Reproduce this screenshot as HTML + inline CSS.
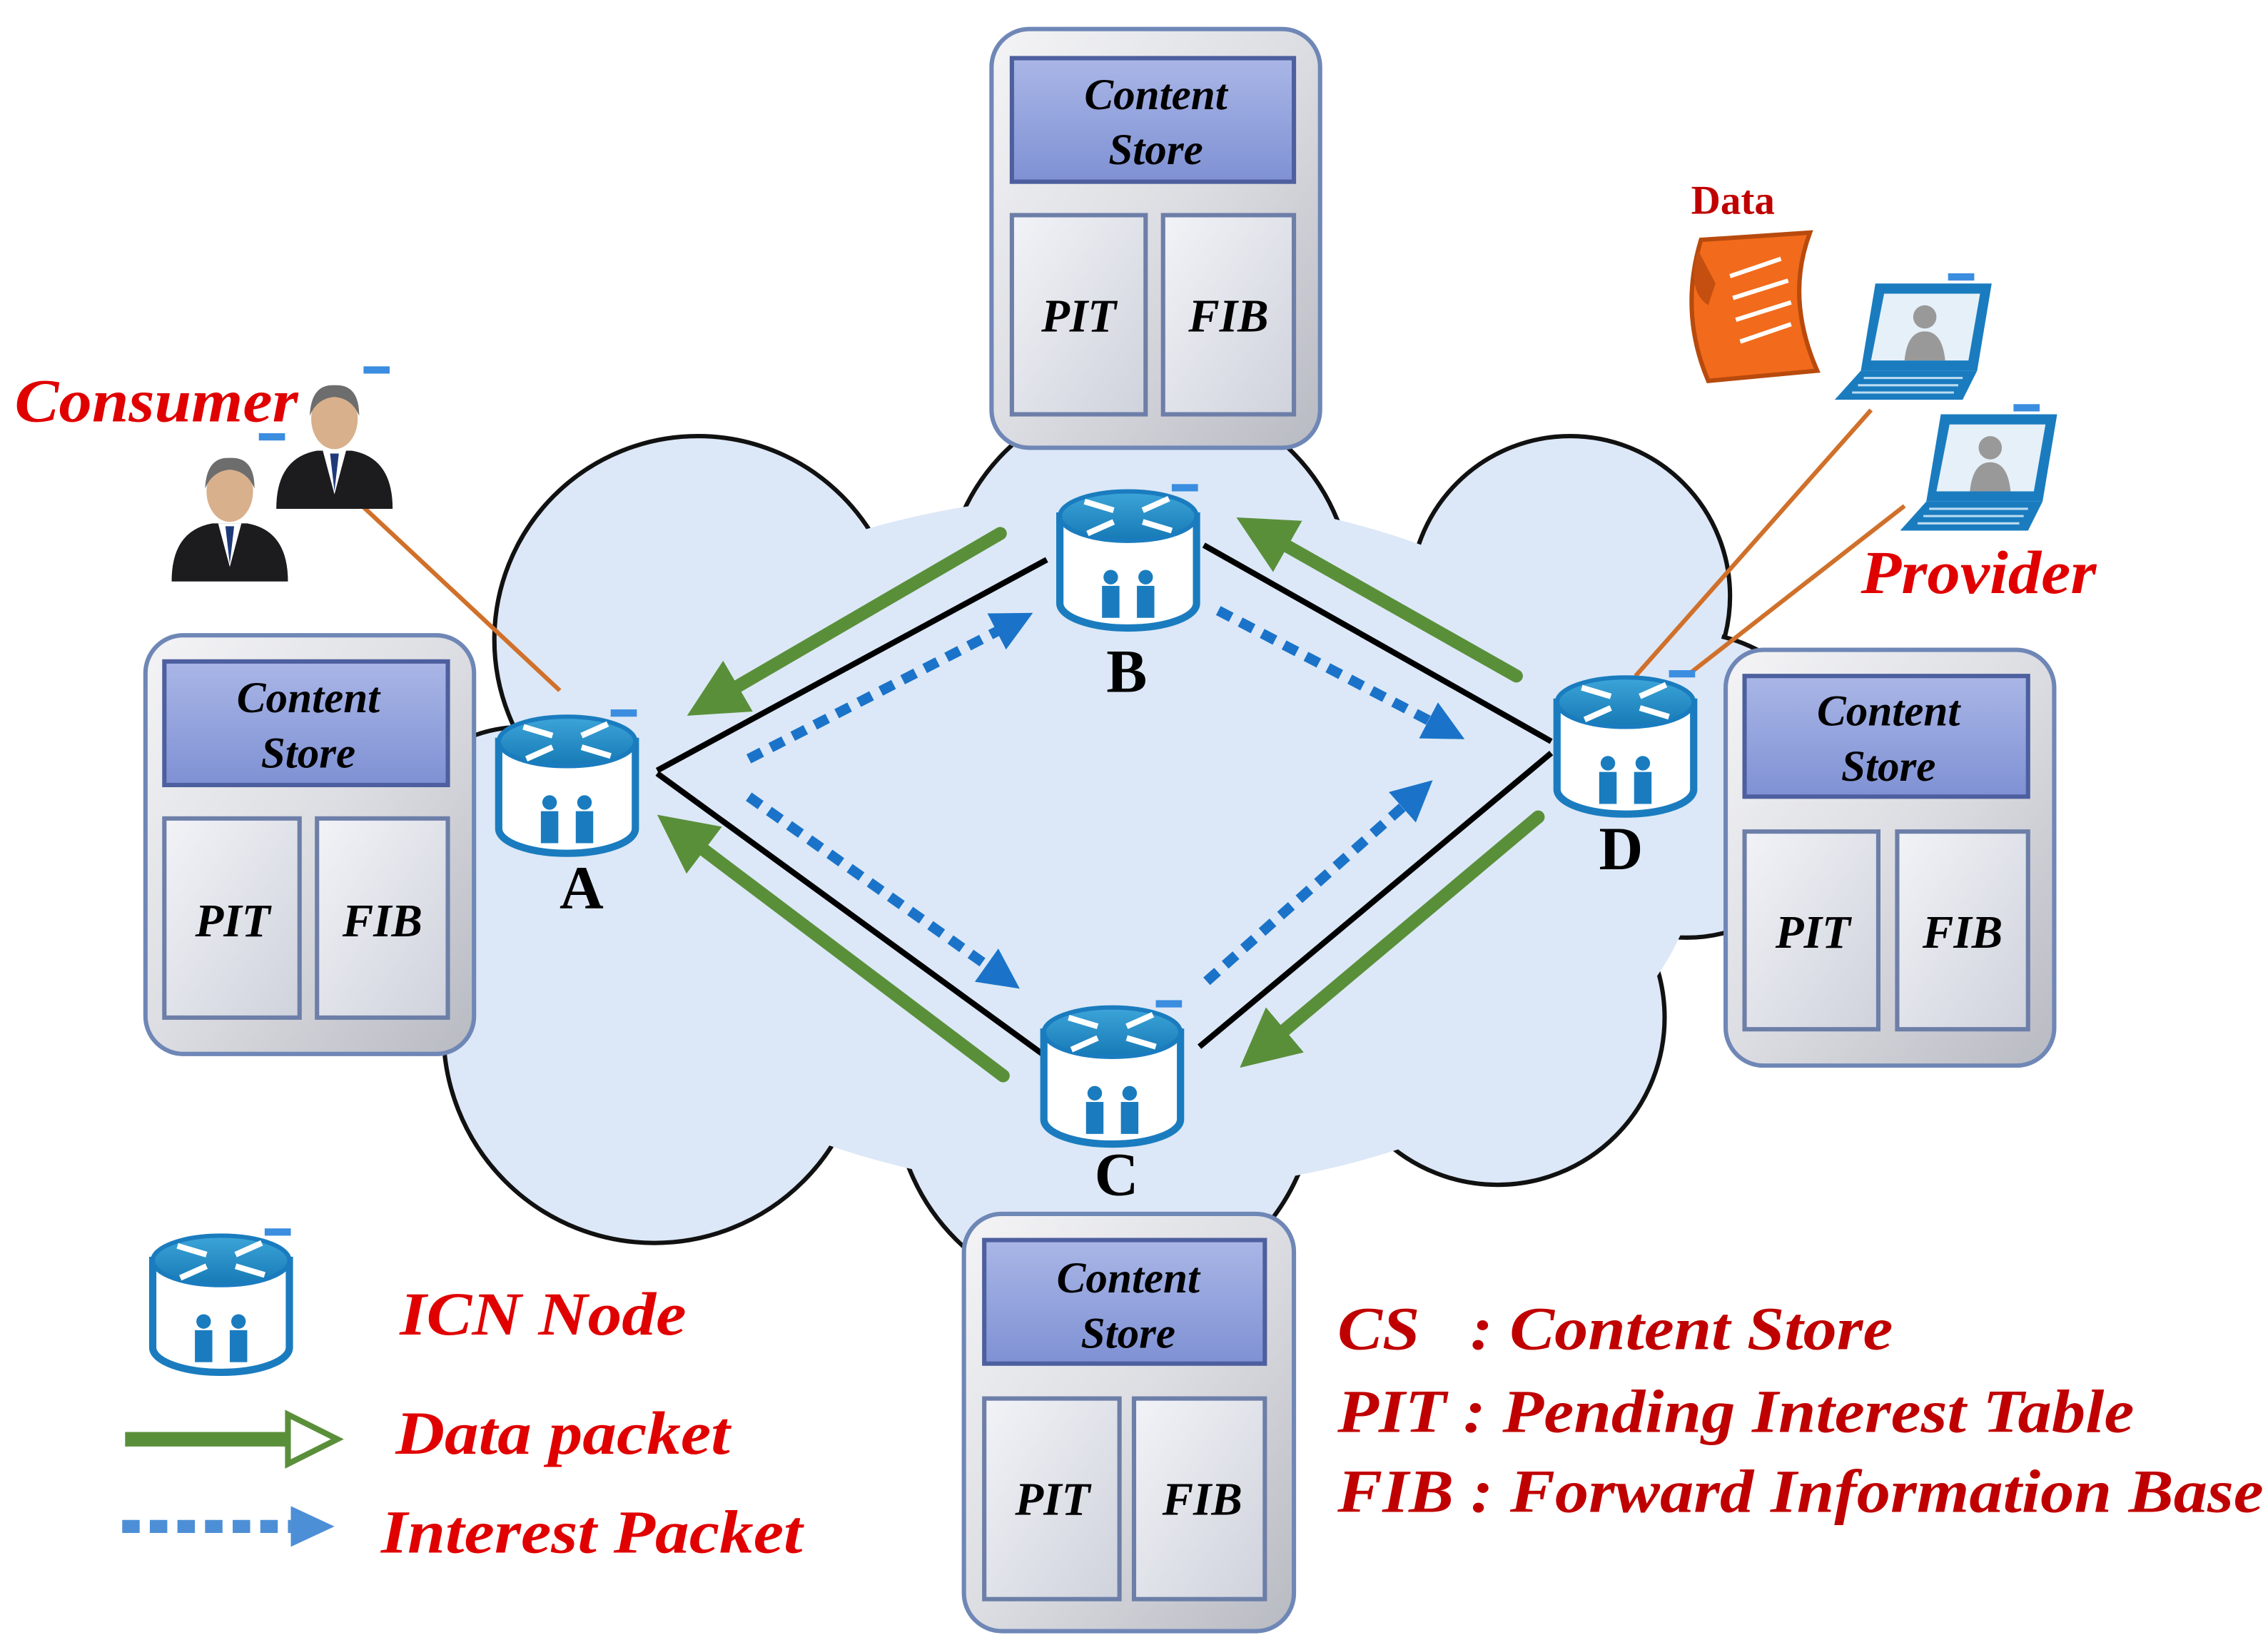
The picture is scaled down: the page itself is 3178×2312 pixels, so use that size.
<!DOCTYPE html>
<html><head><meta charset="utf-8"><style>
html,body{margin:0;padding:0;background:#fff;}
svg{display:block;}
text{font-family:"Liberation Serif",serif;font-weight:bold;}
</style></head><body>
<svg width="3178" height="2312" viewBox="0 0 1560 1135" xmlns="http://www.w3.org/2000/svg">
<defs>
<linearGradient id="box" x1="0" y1="0" x2="1" y2="1"><stop offset="0" stop-color="#f4f4f6"/><stop offset="0.5" stop-color="#dcdde2"/><stop offset="1" stop-color="#b8bac2"/></linearGradient>
<linearGradient id="cs" x1="0" y1="0" x2="0" y2="1"><stop offset="0" stop-color="#a9b6e6"/><stop offset="1" stop-color="#7f91d4"/></linearGradient>
<linearGradient id="pf" x1="0" y1="0" x2="1" y2="1"><stop offset="0" stop-color="#f2f3f7"/><stop offset="1" stop-color="#cfd2dc"/></linearGradient>
<linearGradient id="cyl" x1="0" y1="0" x2="0" y2="1"><stop offset="0" stop-color="#3da5d9"/><stop offset="1" stop-color="#1679b5"/></linearGradient>
<marker id="ga" markerWidth="4.5" markerHeight="4.5" refX="2" refY="2.25" orient="auto" markerUnits="strokeWidth"><path d="M0,0 L4.5,2.25 L0,4.5 z" fill="#5a8f3a"/></marker>
<marker id="ba" markerWidth="4" markerHeight="4" refX="2" refY="2" orient="auto" markerUnits="strokeWidth"><path d="M0,0 L4,2 L0,4 z" fill="#1a73c9"/></marker>
<g id="router">
<path d="M-47,-30 L-47,30 A47,17 0 0 0 47,30 L47,-30 Z" fill="#fff" stroke="#1a7cbf" stroke-width="5"/>
<ellipse cx="0" cy="-30" rx="47" ry="17" fill="url(#cyl)" stroke="#1a7cbf" stroke-width="3"/>
<path d="M-10,-34 L-30,-40 M10,-26 L30,-20 M10,-34 L28,-42 M-10,-26 L-28,-18" stroke="#fff" stroke-width="4"/>
<circle cx="-12" cy="12" r="5" fill="#1a7cbf"/><rect x="-18" y="18" width="12" height="22" fill="#1a7cbf"/>
<circle cx="12" cy="12" r="5" fill="#1a7cbf"/><rect x="6" y="18" width="12" height="22" fill="#1a7cbf"/>
<rect x="30" y="-52" width="18" height="5" fill="#3b8de0"/>
</g>
<g id="person">
<path d="M-40,50 Q-40,15 -12,10 L12,10 Q40,15 40,50 Z" fill="#1c1c1f"/>
<path d="M-8,10 L0,40 L8,10 Z" fill="#fff"/><path d="M-3,12 L0,38 L3,12Z" fill="#1f3a7a"/>
<ellipse cx="0" cy="-12" rx="16" ry="21" fill="#d9b08c"/>
<path d="M-17,-14 Q-16,-36 0,-35 Q17,-36 17,-14 Q12,-26 0,-27 Q-12,-26 -17,-14Z" fill="#6d6d6d"/>
</g>
<g id="laptop">
<path d="M-30,-45 L50,-45 L40,15 L-40,15 Z" fill="#1a7cbf"/>
<path d="M-24,-38 L42,-38 L34,8 L-33,8 Z" fill="#e6f0f8"/>
<circle cx="4" cy="-22" r="8" fill="#999"/><path d="M-10,8 Q-8,-12 4,-12 Q16,-12 18,8Z" fill="#999"/>
<path d="M-40,15 L40,15 L30,35 L-58,35 Z" fill="#1a7cbf"/>
<path d="M-38,20 L30,20 M-42,25 L27,25 M-46,30 L24,30" stroke="#bcdcf2" stroke-width="1.5"/>
<rect x="20" y="-52" width="18" height="5" fill="#3b8de0"/>
</g>
</defs>

<!-- cloud -->
<g stroke="#111" stroke-width="3" fill="#dce8f7">
<circle cx="480" cy="440" r="140"/><circle cx="790" cy="410" r="140"/><circle cx="1080" cy="410" r="110"/>
<circle cx="1160" cy="540" r="105"/><circle cx="1030" cy="700" r="115"/><circle cx="760" cy="750" r="145"/>
<circle cx="450" cy="710" r="145"/><circle cx="360" cy="600" r="100"/>
</g>
<g fill="#dce8f7">
<circle cx="480" cy="440" r="138"/><circle cx="790" cy="410" r="138"/><circle cx="1080" cy="410" r="108"/>
<circle cx="1160" cy="540" r="103"/><circle cx="1030" cy="700" r="113"/><circle cx="760" cy="750" r="143"/>
<circle cx="450" cy="710" r="143"/><circle cx="360" cy="600" r="98"/>
<ellipse cx="770" cy="580" rx="400" ry="240"/>
</g>

<!-- black links -->
<g stroke="#000" stroke-width="4">
<line x1="452" y1="530" x2="720" y2="385"/><line x1="828" y1="375" x2="1067" y2="510"/>
<line x1="452" y1="532" x2="717" y2="725"/><line x1="825" y1="720" x2="1067" y2="518"/>
</g>
<!-- green data arrows -->
<g stroke="#5a8f3a" stroke-width="9" stroke-linecap="round" fill="none">
<line x1="688" y1="367" x2="492" y2="481" marker-end="url(#ga)"/>
<line x1="1043" y1="465" x2="870" y2="367" marker-end="url(#ga)"/>
<line x1="690" y1="740" x2="470" y2="574" marker-end="url(#ga)"/>
<line x1="1058" y1="562" x2="870" y2="720" marker-end="url(#ga)"/>
</g>
<!-- blue interest arrows -->
<g stroke="#1a73c9" stroke-width="7" stroke-dasharray="10,7" fill="none">
<line x1="515" y1="522" x2="698" y2="428" marker-end="url(#ba)"/>
<line x1="838" y1="420" x2="995" y2="502" marker-end="url(#ba)"/>
<line x1="515" y1="548" x2="690" y2="672" marker-end="url(#ba)"/>
<line x1="830" y1="675" x2="975" y2="546" marker-end="url(#ba)"/>
</g>

<!-- orange lines -->
<g stroke="#d0702a" stroke-width="3">
<line x1="232" y1="332" x2="385" y2="475"/>
<line x1="1287" y1="282" x2="1125" y2="465"/>
<line x1="1310" y1="348" x2="1160" y2="465"/>
</g>

<!-- routers -->
<use href="#router" x="390" y="540"/>
<use href="#router" x="776" y="385"/>
<use href="#router" x="765" y="740"/>
<use href="#router" x="1118" y="513"/>
<use href="#router" x="152" y="897"/>

<g font-size="42" fill="#000" text-anchor="middle">
<text x="400" y="625">A</text><text x="775" y="476">B</text><text x="768" y="822">C</text><text x="1115" y="598">D</text>
</g>

<!-- node boxes -->
<g id="boxes" font-style="italic" text-anchor="middle" fill="#000">
<g>
<rect x="682" y="20" width="226" height="288" rx="26" fill="url(#box)" stroke="#6f87b6" stroke-width="3"/>
<rect x="696" y="40" width="194" height="85" fill="url(#cs)" stroke="#4d5f9e" stroke-width="3"/>
<rect x="696" y="148" width="92" height="137" fill="url(#pf)" stroke="#6d7fa8" stroke-width="3"/>
<rect x="800" y="148" width="90" height="137" fill="url(#pf)" stroke="#6d7fa8" stroke-width="3"/>
<text x="795" y="75" font-size="30">Content</text><text x="795" y="113" font-size="30">Store</text>
<text x="742" y="228" font-size="32">PIT</text><text x="845" y="228" font-size="32">FIB</text>
</g>
<g>
<rect x="100" y="437" width="226" height="288" rx="26" fill="url(#box)" stroke="#6f87b6" stroke-width="3"/>
<rect x="113" y="455" width="195" height="85" fill="url(#cs)" stroke="#4d5f9e" stroke-width="3"/>
<rect x="113" y="563" width="93" height="137" fill="url(#pf)" stroke="#6d7fa8" stroke-width="3"/>
<rect x="218" y="563" width="90" height="137" fill="url(#pf)" stroke="#6d7fa8" stroke-width="3"/>
<text x="212" y="490" font-size="30">Content</text><text x="212" y="528" font-size="30">Store</text>
<text x="160" y="644" font-size="32">PIT</text><text x="263" y="644" font-size="32">FIB</text>
</g>
<g>
<rect x="1187" y="447" width="226" height="286" rx="26" fill="url(#box)" stroke="#6f87b6" stroke-width="3"/>
<rect x="1200" y="465" width="195" height="83" fill="url(#cs)" stroke="#4d5f9e" stroke-width="3"/>
<rect x="1200" y="572" width="92" height="136" fill="url(#pf)" stroke="#6d7fa8" stroke-width="3"/>
<rect x="1305" y="572" width="90" height="136" fill="url(#pf)" stroke="#6d7fa8" stroke-width="3"/>
<text x="1299" y="499" font-size="30">Content</text><text x="1299" y="537" font-size="30">Store</text>
<text x="1247" y="652" font-size="32">PIT</text><text x="1350" y="652" font-size="32">FIB</text>
</g>
<g>
<rect x="663" y="835" width="227" height="287" rx="26" fill="url(#box)" stroke="#6f87b6" stroke-width="3"/>
<rect x="677" y="853" width="193" height="85" fill="url(#cs)" stroke="#4d5f9e" stroke-width="3"/>
<rect x="677" y="962" width="93" height="138" fill="url(#pf)" stroke="#6d7fa8" stroke-width="3"/>
<rect x="780" y="962" width="90" height="138" fill="url(#pf)" stroke="#6d7fa8" stroke-width="3"/>
<text x="776" y="889" font-size="30">Content</text><text x="776" y="927" font-size="30">Store</text>
<text x="724" y="1042" font-size="32">PIT</text><text x="827" y="1042" font-size="32">FIB</text>
</g>
</g>

<!-- people -->
<use href="#person" x="230" y="300"/>
<use href="#person" x="158" y="350"/>
<rect x="250" y="252" width="18" height="5" fill="#3b8de0"/><rect x="178" y="298" width="18" height="5" fill="#3b8de0"/>

<!-- laptops -->
<use href="#laptop" x="1320" y="240"/>
<use href="#laptop" x="1365" y="330"/>

<!-- data scroll -->
<path d="M1170,165 L1245,160 Q1228,205 1250,255 L1175,262 Q1155,215 1170,165 Z" fill="#f26a1b" stroke="#b84a0d" stroke-width="3"/>
<path d="M1168,172 Q1160,200 1175,210 L1180,195 Z" fill="#c44f10"/>
<g stroke="#fff" stroke-width="3"><line x1="1190" y1="190" x2="1225" y2="178"/><line x1="1192" y1="205" x2="1230" y2="193"/><line x1="1194" y1="220" x2="1232" y2="208"/><line x1="1197" y1="235" x2="1232" y2="223"/></g>
<text x="1192" y="147" font-size="28" fill="#c00000" text-anchor="middle">Data</text>

<g font-style="italic" fill="#e00000">
<text x="10" y="290" font-size="42" textLength="195" lengthAdjust="spacingAndGlyphs">Consumer</text>
<text x="1280" y="408" font-size="42" textLength="162" lengthAdjust="spacingAndGlyphs">Provider</text>
<text x="275" y="918" font-size="42" textLength="197" lengthAdjust="spacingAndGlyphs">ICN Node</text>
<text x="272" y="1000" font-size="42" textLength="230" lengthAdjust="spacingAndGlyphs">Data packet</text>
<text x="262" y="1068" font-size="42" textLength="290" lengthAdjust="spacingAndGlyphs">Interest Packet</text>
</g>
<g font-style="italic" fill="#c00000" font-size="42">
<text x="920" y="928" xml:space="preserve" textLength="382" lengthAdjust="spacingAndGlyphs">CS   : Content Store</text>
<text x="920" y="985" textLength="548" lengthAdjust="spacingAndGlyphs">PIT : Pending Interest Table</text>
<text x="920" y="1040" textLength="637" lengthAdjust="spacingAndGlyphs">FIB : Forward Information Base</text>
</g>

<!-- legend arrows -->
<line x1="86" y1="990" x2="200" y2="990" stroke="#5a8f3a" stroke-width="10"/>
<path d="M198,973 L232,990 L198,1007 Z" fill="#fff" stroke="#5a8f3a" stroke-width="4"/>
<line x1="84" y1="1050" x2="200" y2="1050" stroke="#4d8fd6" stroke-width="9" stroke-dasharray="12,7"/>
<path d="M200,1036 L230,1050 L200,1064 Z" fill="#4d8fd6"/>
</svg>
</body></html>
